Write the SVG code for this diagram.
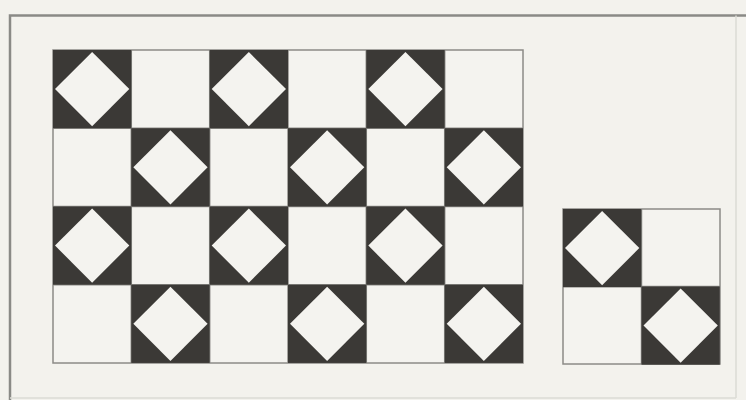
<svg xmlns="http://www.w3.org/2000/svg" width="746" height="400" viewBox="0 0 746 400">
<defs>
<style>
.bg{fill:#f3f2ed}
.frame{fill:none;stroke:#8a8a86;stroke-width:2.5}
.cell{fill:#f4f3ef;stroke:#8c8b87;stroke-width:1.5}
.dark{fill:#3b3936}
.dia{fill:#f4f3ef}
</style>
<g id="tile">
<rect class="dark" x="0" y="0" width="78.3" height="78.2"/>
<polygon class="dia" points="39.15,2 76.3,39.1 39.15,76.2 2,39.1"/>
</g>
</defs>
<rect class="bg" x="0" y="0" width="746" height="400"/>
<g id="frame">
<path class="frame" d="M10,400 V15.5 H746"/>
<path d="M736,15.5 V398 M10,398 H736" fill="none" stroke="#dcdbd5" stroke-width="1.5"/>
</g>
<g id="main-grid">
<rect class="cell" x="53" y="50" width="470" height="313"/>
<path d="M131.3,50V363M209.7,50V363M288,50V363M366.3,50V363M444.7,50V363M53,128.25H523M53,206.5H523M53,284.75H523" stroke="#8c8b87" stroke-width="1.5" fill="none"/>
<use href="#tile" x="53" y="50"/>
<use href="#tile" x="209.7" y="50"/>
<use href="#tile" x="366.3" y="50"/>
<use href="#tile" x="131.3" y="128.25"/>
<use href="#tile" x="288" y="128.25"/>
<use href="#tile" x="444.7" y="128.25"/>
<use href="#tile" x="53" y="206.5"/>
<use href="#tile" x="209.7" y="206.5"/>
<use href="#tile" x="366.3" y="206.5"/>
<use href="#tile" x="131.3" y="284.75"/>
<use href="#tile" x="288" y="284.75"/>
<use href="#tile" x="444.7" y="284.75"/>
</g>
<g id="small-grid">
<rect class="cell" x="563" y="209" width="157" height="155"/>
<path d="M641.5,209V364M563,286.5H720" stroke="#8c8b87" stroke-width="1.5" fill="none"/>
<use href="#tile" x="563" y="209"/>
<use href="#tile" x="641.5" y="286.5"/>
</g>
</svg>
